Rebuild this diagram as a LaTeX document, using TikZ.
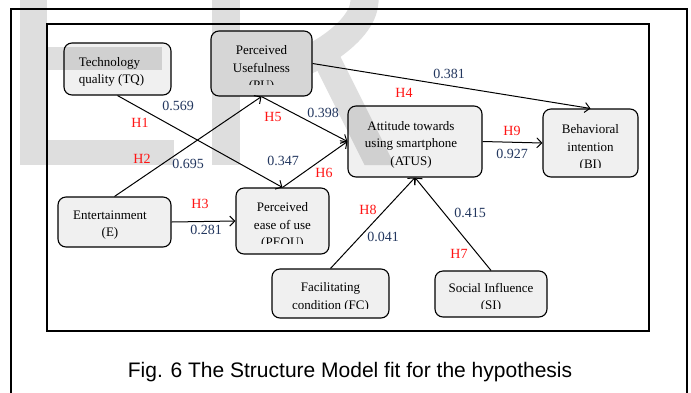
\documentclass[tikz,border=0pt]{standalone}
\usepackage{fontspec}
\setmainfont{Liberation Serif}
\newfontfamily\capfont{Liberation Sans}
\usetikzlibrary{arrows.meta}
\definecolor{numc}{RGB}{35,55,95}
\definecolor{hypc}{RGB}{255,20,20}
\definecolor{wmc}{RGB}{222,222,222}
\definecolor{puf}{RGB}{214,214,214}
\begin{document}
\begin{tikzpicture}[x=1pt,y=-1pt,
  box/.style={draw, line width=1.1pt, rounded corners=8pt, fill=black, fill opacity=0.06, text opacity=1, inner sep=0pt},
  btxt/.style={align=center, font=\fontsize{13}{17.5}\selectfont, inner sep=0pt, text opacity=1},
  conn/.style={line width=1pt, -{Straight Barb[length=5pt,width=10pt,line width=1pt]}},
  numlab/.style={font=\fontsize{14}{16}\selectfont, text=numc, inner sep=0pt},
  hyplab/.style={font=\fontsize{14}{16}\selectfont, text=hypc, inner sep=0pt},
  wm/.style={fill=wmc}]
\useasboundingbox (0,0) rectangle (691,392);
\fill[white] (0,0) rectangle (691,392);
% watermark
\fill[wm] (20,-5) rectangle (47,165);
\fill[wm] (20,47) rectangle (162,70);
\fill[wm] (20,140) rectangle (174,165);
\fill[wm] (212,-5) rectangle (240,165);
\draw[wmc, line width=28pt] (226,-40) -- (300,-40) .. controls (352,-40) and (368,-15) .. (364,5) .. controls (360,35) and (300,75) .. (240,78);
\fill[wm] (307,50) -- (337,50) -- (394.5,165) -- (364.5,165) -- cycle;
% frames
\draw[line width=1.5pt] (11,400) -- (11,9) -- (687,9) -- (687,400);
\draw[line width=2.2pt] (47,24) rectangle (649,331);
% boxes
\node[box, minimum width=107pt, minimum height=52pt,
  path picture={\node[btxt, align=left] at ([xshift=-6pt,yshift=-3pt]path picture bounding box.center) {Technology\\quality (TQ)};}]
  (TQ) at (117.5,69) {};
\node[box, fill=puf, fill opacity=1, minimum width=101pt, minimum height=65pt,
  path picture={\clip ([yshift=12pt]path picture bounding box.south west) rectangle (path picture bounding box.north east);
    \node[btxt] at ([yshift=-5.5pt]path picture bounding box.center) {Perceived\\Usefulness\\(PU)};}]
  (PU) at (261.5,63.5) {};
\node[box, minimum width=134pt, minimum height=71pt,
  path picture={\node[btxt] at ([xshift=-4pt,yshift=-3pt]path picture bounding box.center) {Attitude towards\\using smartphone\\(ATUS)};}]
  (ATUS) at (415,141.5) {};
\node[box, minimum width=95pt, minimum height=68pt,
  path picture={\clip ([yshift=10pt]path picture bounding box.south west) rectangle (path picture bounding box.north east);
    \node[btxt] at ([yshift=-5pt]path picture bounding box.center) {Behavioral\\intention\\(BI)};}]
  (BI) at (590.5,143) {};
\node[box, minimum width=113pt, minimum height=50pt,
  path picture={\clip ([yshift=9pt]path picture bounding box.south west) rectangle (path picture bounding box.north east);
    \node[btxt] at ([xshift=-4.5pt,yshift=-3pt]path picture bounding box.center) {Entertainment\\(E)};}]
  (E) at (114.5,222) {};
\node[box, minimum width=93pt, minimum height=66pt,
  path picture={\clip ([yshift=11pt]path picture bounding box.south west) rectangle (path picture bounding box.north east);
    \node[btxt] at ([yshift=-5pt]path picture bounding box.center) {Perceived\\ease of use\\(PEOU)};}]
  (PEOU) at (282.5,221) {};
\node[box, minimum width=117pt, minimum height=49pt,
  path picture={\clip ([yshift=10pt]path picture bounding box.south west) rectangle (path picture bounding box.north east);
    \node[btxt] at ([yshift=-4pt]path picture bounding box.center) {Facilitating\\condition (FC)};}]
  (FC) at (330.5,293.5) {};
\node[box, minimum width=112pt, minimum height=46pt,
  path picture={\clip ([yshift=9pt]path picture bounding box.south west) rectangle (path picture bounding box.north east);
    \node[btxt] at ([yshift=-4pt]path picture bounding box.center) {Social Influence\\(SI)};}]
  (SI) at (491,294) {};
% connectors
\draw[conn] (TQ.south) -- (PEOU.north);
\draw[conn] (E.north) -- (PU.south);
\draw[conn] (PU.south) -- (ATUS.west);
\draw[conn] (PEOU.north) -- (ATUS.west);
\draw[conn] (PU.east) -- (BI.north);
\draw[conn] (ATUS.east) -- (BI.west);
\draw[conn] (E.east) -- (PEOU.west);
\draw[conn] (FC.north) -- (ATUS.south);
\draw[conn] (SI.north) -- (ATUS.south);
% labels
\node[numlab] (l569) at (178,106) {0.569};
\node[hyplab] (h1) at (140,123) {H1};
\node[hyplab] (h2) at (142,159) {H2};
\node[numlab] (l695) at (188,164) {0.695};
\node[hyplab] (h5) at (273,117) {H5};
\node[numlab] (l398) at (323,113) {0.398};
\node[numlab] (l347) at (283,161) {0.347};
\node[hyplab] (h6) at (324,173) {H6};
\node[numlab] (l381) at (449,74) {0.381};
\node[hyplab] (h4) at (404,93) {H4};
\node[hyplab] (h9) at (512,131) {H9};
\node[numlab] (l927) at (512,154) {0.927};
\node[hyplab] (h3) at (200,204) {H3};
\node[numlab] (l281) at (206,230) {0.281};
\node[hyplab] (h8) at (368,210) {H8};
\node[numlab] (l041) at (383,237) {0.041};
\node[numlab] (l415) at (470,213) {0.415};
\node[hyplab] (h7) at (459,254) {H7};
% caption
\node[font=\capfont\fontsize{21}{24}\selectfont, anchor=base, inner sep=0pt] (cap) at (350,377) {Fig. 6 The Structure Model fit for the hypothesis};
\end{tikzpicture}
\end{document}
